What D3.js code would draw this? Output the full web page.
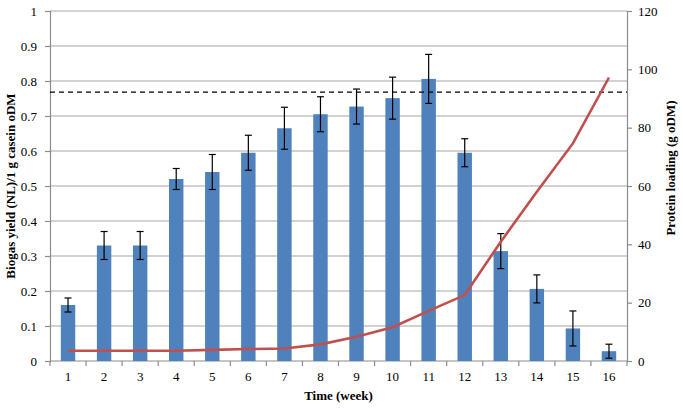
<!DOCTYPE html>
<html>
<head>
<meta charset="utf-8">
<script src="https://cdn.jsdelivr.net/npm/d3@7"></script>
<style>
  body { margin: 0; background: #fff; }
  svg text { font-family: "Liberation Serif", "Times New Roman", serif; }
</style>
</head>
<body>
<div id="chart"></div>
<script>
// weeks on the x axis
const weeks = ['1','2','3','4','5','6','7','8','9','10','11','12','13','14','15','16'];
// biogas yield per week (left axis) and its error
const biogas = [0.16, 0.33, 0.33, 0.52, 0.54, 0.595, 0.665, 0.705, 0.727, 0.751, 0.806, 0.595, 0.314, 0.206, 0.093, 0.028];
const biogasErr = [0.02, 0.04, 0.04, 0.03, 0.05, 0.05, 0.06, 0.05, 0.05, 0.06, 0.07, 0.04, 0.05, 0.04, 0.05, 0.02];
// protein loading (right axis)
const protein = [3.5, 3.5, 3.5, 3.5, 3.8, 4.1, 4.3, 5.7, 8.3, 11.6, 17.2, 22.6, 40.9, 58, 74.6, 97.2];
// reference level (dashed line)
const refLevel = [0.768];
const leftTicks = [0, 0.1, 0.2, 0.3, 0.4, 0.5, 0.6, 0.7, 0.8, 0.9, 1];
const rightTicks = [0, 20, 40, 60, 80, 100, 120];

const width = 683, height = 410;
const margin = { top: 11, right: 56, bottom: 49, left: 50 };
const x0 = margin.left, x1 = width - margin.right;
const y0 = height - margin.bottom, y1 = margin.top;

const svg = d3.select('#chart').append('svg')
  .attr('width', width).attr('height', height);

const x = d3.scaleBand().domain(weeks).range([x0, x1]).paddingInner(0.6).paddingOuter(0.3);
const xc = d3.scaleBand().domain(weeks).range([x0, x1]);
const yL = d3.scaleLinear().domain([0, 1]).range([y0, y1]);
const yR = d3.scaleLinear().domain([0, 120]).range([y0, y1]);

//gridlines
svg.append('g')
  .selectAll('line')
  .data(leftTicks.slice(1))
  .enter()
  .append('line')
  .attr('x1', x0).attr('x2', x1)
  .attr('y1', d => yL(d)).attr('y2', d => yL(d))
  .attr('stroke', '#a6a6a6').attr('stroke-width', 1.2);

//left axis
const axL = svg.append('g').attr('transform', `translate(${x0},0)`)
  .call(d3.axisLeft(yL).tickValues(leftTicks).tickSize(5).tickPadding(8)
    .tickFormat(d => d === 0 || d === 1 ? d3.format('d')(d) : d3.format('.1f')(d)));
//right axis
const axR = svg.append('g').attr('transform', `translate(${x1},0)`)
  .call(d3.axisRight(yR).tickValues(rightTicks).tickSize(5).tickPadding(6));
//bottom axis
const axB = svg.append('g').attr('transform', `translate(0,${y0})`)
  .call(d3.axisBottom(xc).tickSize(0).tickPadding(11));

[axL, axR, axB].forEach(a => {
  a.select('.domain').attr('stroke', '#8c8c8c').attr('stroke-width', 1.2);
  a.selectAll('.tick line').attr('stroke', '#8c8c8c').attr('stroke-width', 1.2);
  a.selectAll('text').attr('font-size', 13).attr('fill', '#000')
    .attr('font-family', '"Liberation Serif", serif');
});
axB.select('.domain').attr('d', `M${x0},0H${x1}`);

//x ticks at category boundaries
svg.append('g')
  .selectAll('line')
  .data(weeks.concat(['end']))
  .enter()
  .append('line')
  .attr('x1', (d, i) => x0 + i * xc.step()).attr('x2', (d, i) => x0 + i * xc.step())
  .attr('y1', y0).attr('y2', y0 + 5)
  .attr('stroke', '#8c8c8c').attr('stroke-width', 1.2);

//bars
svg.append('g')
  .selectAll('rect')
  .data(biogas)
  .enter()
  .append('rect')
  .attr('x', (d, i) => x(weeks[i]))
  .attr('width', x.bandwidth())
  .attr('y', d => yL(d))
  .attr('height', d => y0 - yL(d))
  .attr('fill', '#4f81bd');

//error bars
const eb = svg.append('g').attr('stroke', '#000').attr('stroke-width', 1.2);
biogas.forEach((v, i) => {
  const cx = xc(weeks[i]) + xc.bandwidth() / 2;
  const hi = yL(v + biogasErr[i]), lo = yL(v - biogasErr[i]);
  eb.append('line').attr('x1', cx).attr('x2', cx).attr('y1', hi).attr('y2', lo);
  eb.append('line').attr('x1', cx - 3.5).attr('x2', cx + 3.5).attr('y1', hi).attr('y2', hi);
  eb.append('line').attr('x1', cx - 3.5).attr('x2', cx + 3.5).attr('y1', lo).attr('y2', lo);
});

//dashed reference line
svg.append('g')
  .selectAll('line')
  .data(refLevel)
  .enter()
  .append('line')
  .attr('x1', x0).attr('x2', x1)
  .attr('y1', d => yL(d)).attr('y2', d => yL(d))
  .attr('stroke', '#000').attr('stroke-width', 1.3)
  .attr('stroke-dasharray', '5,4');

//protein line
const line = d3.line()
  .x((d, i) => xc(weeks[i]) + xc.bandwidth() / 2)
  .y(d => yR(d));
svg.append('path')
  .datum(protein)
  .attr('d', line)
  .attr('fill', 'none')
  .attr('stroke', '#c0504d')
  .attr('stroke-width', 2.6);

//axis titles
svg.append('text')
  .attr('x', (x0 + x1) / 2).attr('y', 400)
  .attr('text-anchor', 'middle')
  .attr('font-size', 13).attr('font-weight', 'bold')
  .text('Time (week)');
svg.append('text')
  .attr('transform', `translate(15,${(y0 + y1) / 2}) rotate(-90)`)
  .attr('text-anchor', 'middle')
  .attr('font-size', 13).attr('font-weight', 'bold')
  .text('Biogas yield (NL)/1 g casein oDM');
svg.append('text')
  .attr('transform', `translate(675,168) rotate(-90)`)
  .attr('text-anchor', 'middle')
  .attr('font-size', 13).attr('font-weight', 'bold')
  .text('Protein loading (g oDM)');
</script>
</body>
</html>
